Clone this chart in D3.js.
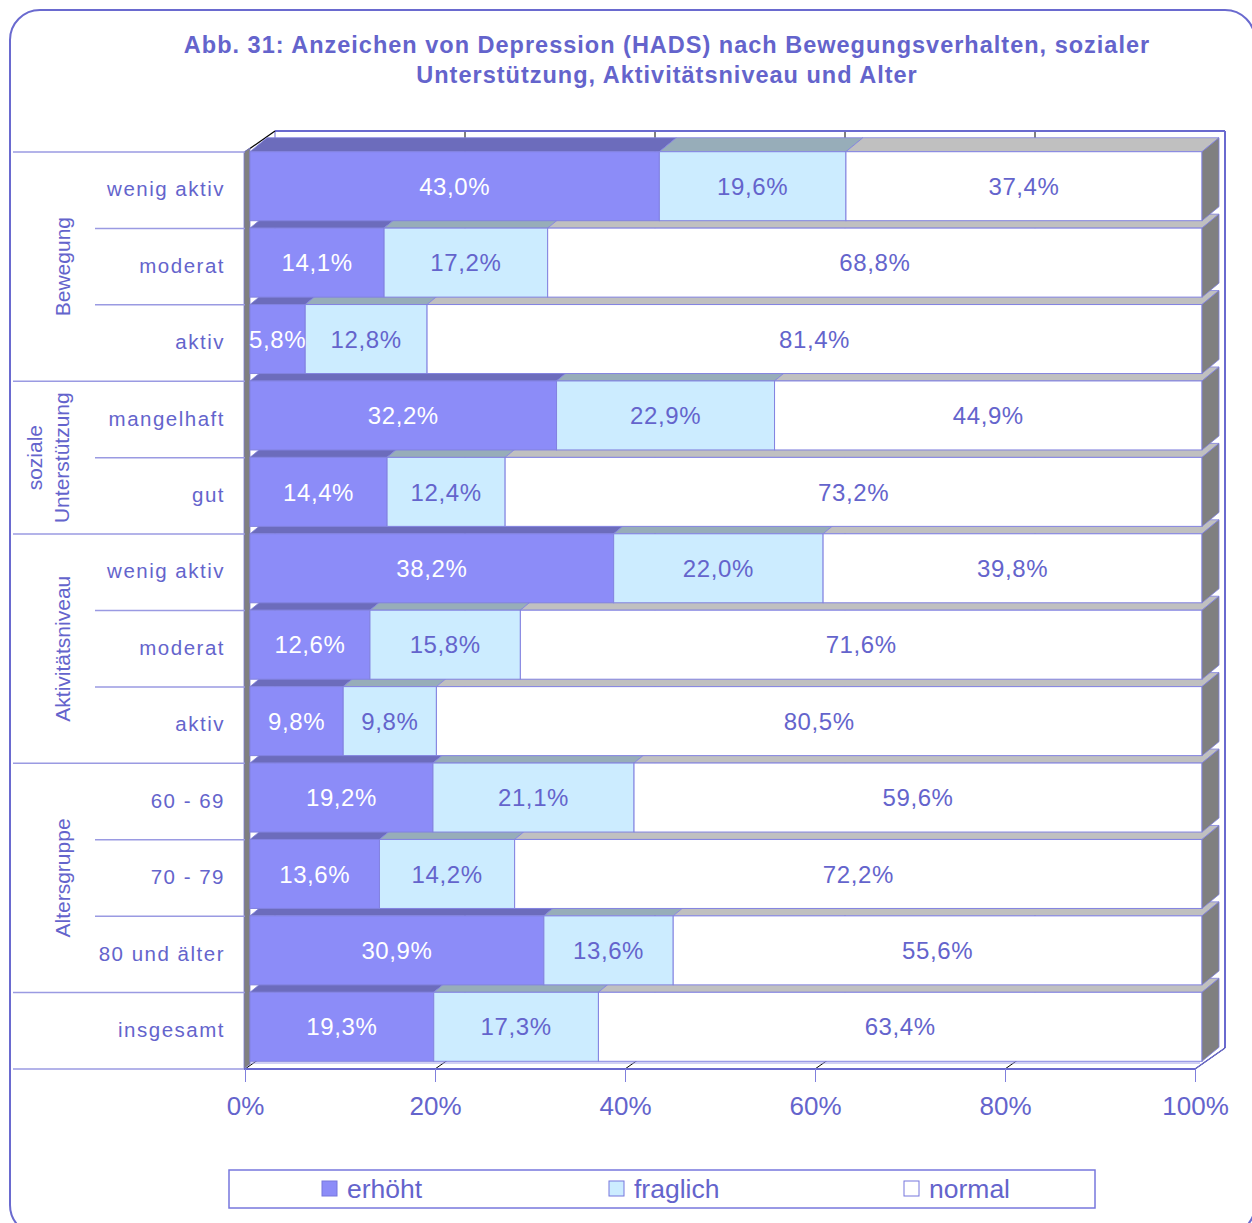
<!DOCTYPE html>
<html>
<head>
<meta charset="utf-8">
<script src="https://cdn.jsdelivr.net/npm/d3@7"></script>
<style>
html,body{margin:0;padding:0;background:#fff;}
svg{display:block;font-family:"Liberation Sans",Arial,sans-serif;}
</style>
</head>
<body>
<svg id="chart" width="1252" height="1223"></svg>
<script>
// ---- data ----
const titleLines = ["Abb. 31: Anzeichen von Depression (HADS) nach Bewegungsverhalten, sozialer",
                    "Unterstützung, Aktivitätsniveau und Alter"];
const categories = ["wenig aktiv","moderat","aktiv","mangelhaft","gut","wenig aktiv","moderat","aktiv","60 - 69","70 - 79","80 und älter","insgesamt"];
const seriesNames = ["erhöht","fraglich","normal"];
const erhoeht  = [43.0,14.1,5.8,32.2,14.4,38.2,12.6,9.8,19.2,13.6,30.9,19.3];
const fraglich = [19.6,17.2,12.8,22.9,12.4,22.0,15.8,9.8,21.1,14.2,13.6,17.3];
const normal   = [37.4,68.8,81.4,44.9,73.2,39.8,71.6,80.5,59.6,72.2,55.6,63.4];
const groupNames  = [["Bewegung"],["soziale","Unterstützung"],["Aktivitätsniveau"],["Altersgruppe"],[]];
const groupStarts = [0,3,5,8,11];
const groupSizes  = [3,2,3,3,1];
const tickValues = [0,20,40,60,80,100];

// ---- styles ----
const TXT = "#6464cc";
const frontColors = ["#8c8cf8","#ccecff","#ffffff"];
const topColors   = ["#6c6cbc","#97adb9","#c0c0c0"];
const labelColors = ["#ffffff",TXT,TXT];
const EDGE = "#8282e0";

const svg = d3.select("#chart");

// frame
svg.append("rect").attr("x",10).attr("y",10).attr("width",1245).attr("height",1225)
  .attr("rx",30).attr("fill","#fff").attr("stroke","#6a6acf").attr("stroke-width",2);

// title
const title = svg.append("text").attr("text-anchor","middle").attr("fill",TXT)
  .attr("font-weight","bold").attr("font-size",23.5).attr("letter-spacing",1.0);
titleLines.forEach((t,i)=>title.append("tspan").attr("x",667).attr("y",53+i*30).text(t));

// scales
const xa = d3.scaleLinear().domain([0,100]).range([245,1195]);   // floor front axis
const xb = d3.scaleLinear().domain([0,100]).range([250,1202]);   // bar front plane
const y = d3.scaleBand().domain(d3.range(categories.length)).range([152,1069])
  .paddingInner(0.097).paddingOuter(0.0485);
const step = y.step();
const y0 = y.range()[0];
const boundary = i => y0 + i*step;

const FD = {x:30,y:-21};   // full depth
const BD = {x:17,y:-14};   // bar depth
const BO = {x:0,y:-4};     // bar front offset (x handled by xb)

// back wall & floor gridlines
const floorY = 1069;
const g0 = svg.append("g");
tickValues.forEach(t=>{
  g0.append("line").attr("x1",xa(t)+FD.x).attr("x2",xa(t)+FD.x).attr("y1",floorY+FD.y-917).attr("y2",floorY+FD.y)
    .attr("stroke",t===0||t===100?"#6a6acf":"#000").attr("stroke-width",t===100?2:1);
  g0.append("line").attr("x1",xa(t)).attr("y1",floorY).attr("x2",xa(t)+FD.x).attr("y2",floorY+FD.y)
    .attr("stroke","#000").attr("stroke-width",1);
});
g0.append("line").attr("x1",xa(0)+FD.x).attr("x2",xa(100)+FD.x).attr("y1",152+FD.y).attr("y2",152+FD.y)
  .attr("stroke","#6a6acf").attr("stroke-width",2);
g0.append("line").attr("x1",xa(0)).attr("y1",152).attr("x2",xa(0)+FD.x).attr("y2",152+FD.y)
  .attr("stroke","#000").attr("stroke-width",1.2);
g0.append("line").attr("x1",xa(100)).attr("y1",floorY).attr("x2",xa(100)+FD.x).attr("y2",floorY+FD.y)
  .attr("stroke","#6a6acf").attr("stroke-width",1.5);
g0.append("line").attr("x1",xb(0)).attr("x2",xa(100)+5).attr("y1",floorY-6).attr("y2",floorY-6)
  .attr("stroke","#a0a0e8").attr("stroke-width",1);
g0.append("polygon").attr("points",[[244,152],[250,148],[250,floorY-5],[244,floorY]].join(" "))
  .attr("fill","#808080").attr("stroke","#7a7ad0").attr("stroke-width",0.8);

// bars
const series = [erhoeht,fraglich,normal];
const rows = categories.map((c,i)=>{
  const vals = series.map(s=>s[i]);
  const tot = d3.sum(vals);
  let cum = 0;
  const segs = vals.map((v,k)=>{ const a=cum/tot*100; cum+=v; return {k,v,x0:a,x1:cum/tot*100}; });
  return {i,segs};
});
const gb = svg.append("g");
rows.slice().reverse().forEach(r=>{
  const yt = y(r.i)+BO.y, h = y.bandwidth(), yb = yt+h;
  const g = gb.append("g");
  r.segs.forEach(s=>{
    const a = xb(s.x0), b = xb(s.x1);
    g.append("polygon").attr("points",[[a,yt],[b,yt],[b+BD.x,yt+BD.y],[a+BD.x,yt+BD.y]].join(" "))
      .attr("fill",topColors[s.k]).attr("stroke",EDGE).attr("stroke-width",0.8);
  });
  r.segs.forEach(s=>{
    g.append("rect").attr("x",xb(s.x0)).attr("y",yt).attr("width",xb(s.x1)-xb(s.x0)).attr("height",h)
      .attr("fill",frontColors[s.k]).attr("stroke",EDGE).attr("stroke-width",1);
  });
  const e = xb(100);
  g.append("polygon").attr("points",[[e,yt],[e+BD.x,yt+BD.y],[e+BD.x,yb+BD.y],[e,yb]].join(" "))
    .attr("fill","#808080").attr("stroke",EDGE).attr("stroke-width",0.8);
});
// value labels
const gl = svg.append("g").attr("font-size",24).attr("text-anchor","middle");
rows.forEach(r=>{
  const yc = y(r.i)+BO.y+y.bandwidth()/2;
  r.segs.forEach(s=>{
    gl.append("text").attr("x",(xb(s.x0)+xb(s.x1))/2).attr("y",yc).attr("dy","0.36em")
      .attr("fill",labelColors[s.k]).attr("letter-spacing",0.6)
      .text(d3.format(".1f")(s.v).replace(".",",")+"%");
  });
});

// left category table
const gc = svg.append("g");
categories.forEach((c,i)=>{
  gc.append("text").attr("x",225).attr("y",boundary(i)+step/2).attr("dy","0.3em")
    .attr("text-anchor","end").attr("fill",TXT).attr("font-size",20.5).attr("letter-spacing",1.5).text(c);
});
groupStarts.forEach((s,gi)=>{
  gc.append("line").attr("x1",13).attr("x2",245).attr("y1",boundary(s)).attr("y2",boundary(s))
    .attr("stroke","#9a9ae2").attr("stroke-width",1.5);
  for(let j=1;j<groupSizes[gi];j++){
    gc.append("line").attr("x1",95).attr("x2",245).attr("y1",boundary(s+j)).attr("y2",boundary(s+j))
      .attr("stroke","#9a9ae2").attr("stroke-width",1.5);
  }
  const yc = boundary(s)+groupSizes[gi]*step/2;
  const n = groupNames[gi].length;
  groupNames[gi].forEach((t,k)=>{
    const bx = n===1 ? 70 : (k===0 ? 42 : 69);
    gc.append("text").attr("transform",`translate(${bx},${yc}) rotate(-90)`).attr("text-anchor","middle")
      .attr("fill",TXT).attr("font-size",21).text(t);
  });
});
gc.append("line").attr("x1",13).attr("x2",245).attr("y1",floorY).attr("y2",floorY)
  .attr("stroke","#9a9ae2").attr("stroke-width",1.5);
svg.append("line").attr("x1",244).attr("x2",xa(100)).attr("y1",floorY).attr("y2",floorY)
  .attr("stroke","#6a6acf").attr("stroke-width",2);

// x axis
const ax = svg.append("g").attr("transform",`translate(0,${floorY})`)
  .call(d3.axisBottom(xa).tickValues(tickValues).tickSize(13).tickPadding(15).tickFormat(d=>d+"%"));
ax.select(".domain").remove();
ax.selectAll(".tick line").attr("stroke","#8080dd");
ax.selectAll(".tick text").attr("fill",TXT).attr("font-size",26).attr("font-family","Liberation Sans, Arial, sans-serif");

// legend
const lg = svg.append("g");
lg.append("rect").attr("x",229).attr("y",1170).attr("width",866).attr("height",38)
  .attr("fill","#fff").attr("stroke","#7777dd").attr("stroke-width",1.5);
const legX = [322,609,904];
seriesNames.forEach((n,k)=>{
  lg.append("rect").attr("x",legX[k]).attr("y",1181).attr("width",15).attr("height",15)
    .attr("fill",frontColors[k]).attr("stroke","#7777dd").attr("stroke-width",1);
  lg.append("text").attr("x",legX[k]+25).attr("y",1198).attr("fill",TXT).attr("font-size",26.5).text(n);
});
</script>
</body>
</html>
